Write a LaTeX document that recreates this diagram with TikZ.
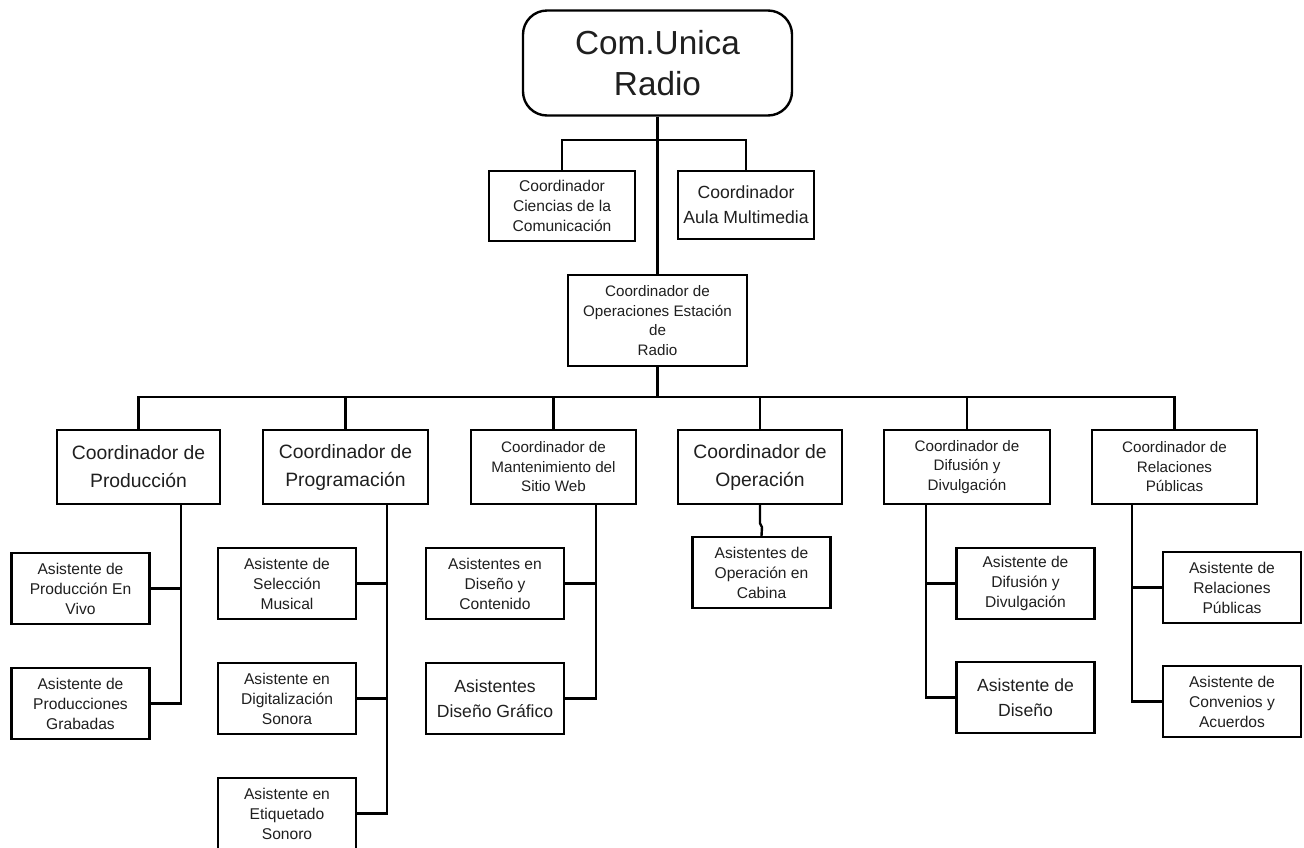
\documentclass[tikz,border=0pt]{standalone}
\usepackage{fontspec}
\setmainfont{Liberation Sans}
\begin{document}
\begin{tikzpicture}[x=0.75pt,y=-0.75pt,
  line width=1.8pt,
  box/.style={draw=black, line width=1.8pt, align=center, inner sep=0pt, text=black!88},
  rootf/.style={font=\fontsize{25}{31}\selectfont},
  bigf/.style={font=\fontsize{14.5}{21}\selectfont},
  smallf/.style={font=\fontsize{11.4}{14.6}\selectfont},
  asf/.style={font=\fontsize{11.7}{15}\selectfont},
  asbig/.style={font=\fontsize{13.2}{18.8}\selectfont},
  lvl/.style={box, minimum height=55.5pt},
  asst/.style={box, minimum width=103.5pt, minimum height=53.25pt}
]
\useasboundingbox (0,0) rectangle (1304,847);
\fill[white] (0,0) rectangle (1304,847);

% top
\node[box, rootf, rounded corners=18pt, minimum width=201.75pt, minimum height=78.75pt] (root) at (657.5,63) {Com.Unica\\Radio};
\node[box, asf, minimum width=109.5pt, minimum height=52.5pt] (cien) at (562,206) {Coordinador\\Ciencias de la\\Comunicación};
\node[box, asbig, minimum width=102pt, minimum height=51pt] (aula) at (746,205) {Coordinador\\Aula Multimedia};
\node[box, smallf, minimum width=134.25pt, minimum height=68.25pt] (ops) at (657.5,320.5) {Coordinador de\\Operaciones Estación\\de\\Radio};

% level 2
\node[lvl, bigf, minimum width=122.25pt] (prod) at (138.5,467) {Coordinador de\\Producción};
\node[lvl, bigf, minimum width=123.75pt] (prog) at (345.5,467) {Coordinador de\\Programación};
\node[lvl, smallf, minimum width=123.75pt] (web) at (553.5,467) {Coordinador de\\Mantenimiento del\\Sitio Web};
\node[lvl, bigf, minimum width=123pt] (oper) at (760,467) {Coordinador de\\Operación};
\node[lvl, smallf, minimum width=124.5pt] (dif) at (967,467) {Coordinador de\\Difusión y\\Divulgación};
\node[lvl, smallf, minimum width=123.75pt] (rp) at (1174.5,467) {Coordinador de\\Relaciones\\Públicas};

% assistants
\node[asst, asf] (pv) at (80.5,588.5) {Asistente de\\Producción En\\Vivo};
\node[asst, asf] (pg) at (80.5,703.5) {Asistente de\\Producciones\\Grabadas};
\node[asst, asf] (sm) at (287,583.5) {Asistente de\\Selección\\Musical};
\node[asst, asf] (ds) at (287,698.5) {Asistente en\\Digitalización\\Sonora};
\node[asst, asf] (es) at (287,813.5) {Asistente en\\Etiquetado\\Sonoro};
\node[asst, asf] (dc) at (495,583.5) {Asistentes en\\Diseño y\\Contenido};
\node[asst, asbig] (dg) at (495,698.5) {Asistentes\\Diseño Gráfico};
\node[asst, asf] (oc) at (761.5,572.5) {Asistentes de\\Operación en\\Cabina};
\node[asst, asf] (add) at (1025.5,583.5) {Asistente de\\Difusión y\\Divulgación};
\node[asst, asbig] (ad) at (1025.5,697.5) {Asistente de\\Diseño};
\node[asst, asf] (arp) at (1232,587.5) {Asistente de\\Relaciones\\Públicas};
\node[asst, asf] (acv) at (1232,701.5) {Asistente de\\Convenios y\\Acuerdos};

% top connectors
\draw (root.south) -- (ops.north);
\coordinate (tb) at (657.5,140);
\draw (cien.north) |- (tb) -| (aula.north);

% main bar
\coordinate (mb) at (657.5,397);
\draw (ops.south) -- (mb);
\draw (prod.north) |- (mb) -| (rp.north);
\draw (prog.north) -- (prog.north |- mb);
\draw (web.north) -- (web.north |- mb);
\draw (oper.north) -- (oper.north |- mb);
\draw (dif.north) -- (dif.north |- mb);

% spines
\coordinate (s1) at (181,504);
\draw (s1) |- (pg.east);
\draw (pv.east) -- (pv.east -| s1);

\coordinate (s2) at (387,504);
\draw (s2) |- (es.east);
\draw (sm.east) -- (sm.east -| s2);
\draw (ds.east) -- (ds.east -| s2);

\coordinate (s3) at (596,504);
\draw (s3) |- (dg.east);
\draw (dc.east) -- (dc.east -| s3);

\draw (oper.south) -- ++(0,18) -- ++(2,4) -- (oc.north);

\coordinate (s5) at (926,504);
\draw (s5) |- (ad.west);
\draw (add.west) -- (add.west -| s5);

\coordinate (s6) at (1132,504);
\draw (s6) |- (acv.west);
\draw (arp.west) -- (arp.west -| s6);
\end{tikzpicture}
\end{document}
